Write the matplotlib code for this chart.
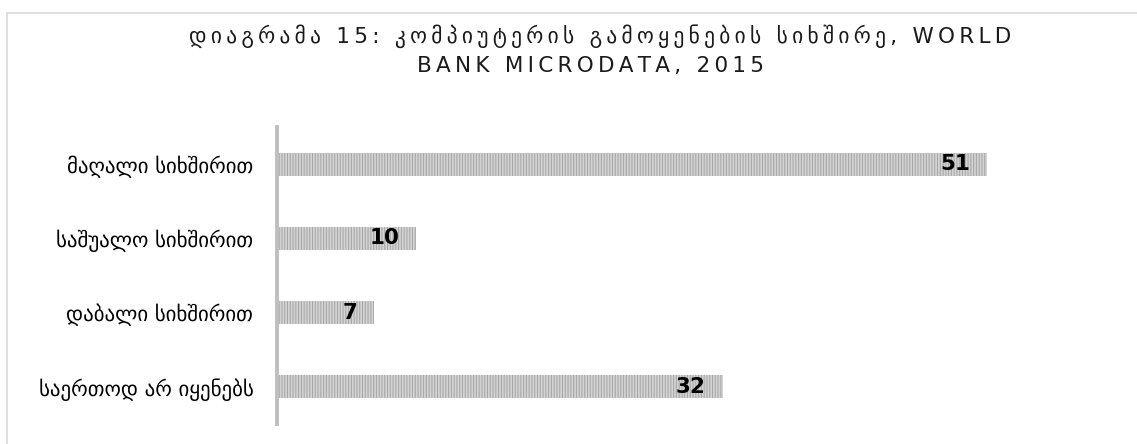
import matplotlib.pyplot as plt
from matplotlib.patches import Rectangle

plt.rcParams['font.family'] = ['DejaVu Sans']
plt.rcParams['hatch.linewidth'] = 0.75

categories = ["მაღალი სიხშირით", "საშუალო სიხშირით", "დაბალი სიხშირით", "საერთოდ არ იყენებს"]
values = [51, 10, 7, 32]
title_line1 = "დიაგრამა 15: კომპიუტერის გამოყენების სიხშირე, WORLD"
title_line2 = "BANK MICRODATA, 2015"


def spaced(s):
    # imitate the letter spacing of the original title
    return "\u2009".join(s)


fig = plt.figure(figsize=(11.37, 4.44), dpi=100)
ax = fig.add_axes([0.2436, 0.045, 0.735, 0.669])

ypos = list(range(len(categories)))
bars = ax.barh(ypos, values, height=0.31, color="#d4d4d4", edgecolor="#a6a6a6",
               linewidth=0, hatch="||||||")

for b, v in zip(bars, values):
    ax.text(b.get_width() - 1.2, b.get_y() + b.get_height() / 2, str(v),
            ha="right", va="center", fontsize=15.5, fontweight="bold", color="black")

ax.set_yticks(ypos)
ax.set_yticklabels(categories, fontsize=15, color="#000000")
ax.tick_params(axis="y", length=0, pad=17)
ax.set_xticks([])
ax.set_xlim(0, 60)
ax.set_ylim(3.5, -0.5)

for s in ["top", "right", "bottom"]:
    ax.spines[s].set_visible(False)
ax.spines["left"].set_color("#bfbfbf")
ax.spines["left"].set_linewidth(2.8)

fig.text(0.528, 0.918, spaced(title_line1), ha="center", va="center", fontsize=15.5, color="#1a1a1a")
fig.text(0.519, 0.851, spaced(title_line2), ha="center", va="center", fontsize=15.5, color="#1a1a1a")

fig.patches.append(Rectangle((7 / 1137, -0.1), 1.2, (444 - 13) / 444 + 0.1, fill=False,
                             edgecolor="#d9d9d9", linewidth=1.2, transform=fig.transFigure))

fig.savefig("out.png", dpi=100)
